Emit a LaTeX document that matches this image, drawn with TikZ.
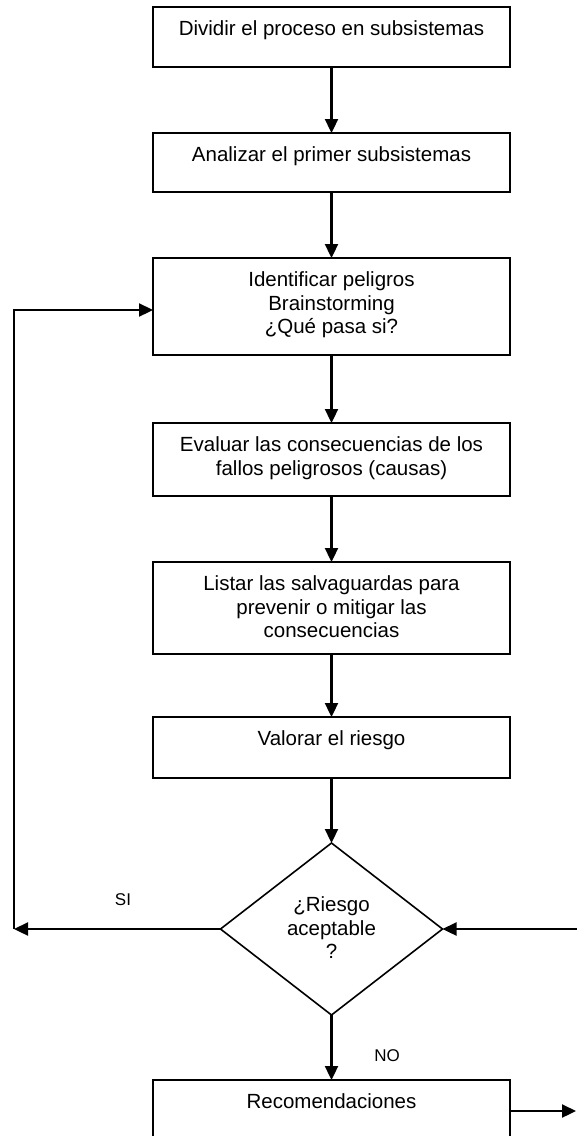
\documentclass[tikz,border=0pt]{standalone}
\usepackage{fontspec}
\setmainfont{Liberation Sans}
\usetikzlibrary{arrows.meta,shapes.geometric}
\begin{document}
\begin{tikzpicture}[x=1pt,y=-1pt,
  box/.style={draw, line width=1.6pt, minimum width=357pt, inner sep=0pt, outer sep=0pt},
  txt/.style={anchor=north, align=center, inner sep=0pt, font=\fontsize{20.5}{23.5}\selectfont},
  lbl/.style={anchor=base, inner sep=0pt, font=\fontsize{17}{20}\selectfont},
  flow/.style={line width=2.3pt, -{Triangle[width=13pt,length=14pt]}},
  decision/.style={diamond, draw, line width=1.6pt, minimum width=222pt, minimum height=172pt, inner sep=0pt, outer sep=0pt}]
\useasboundingbox (0,0) rectangle (577,1136);
\clip (0,0) rectangle (577,1136);

% process boxes (top edge + height/2 gives the centre)
\node[box, minimum height=60pt] (b1) at (331.5,37) {};
\node[box, minimum height=59pt] (b2) at (331.5,162.5) {};
\node[box, minimum height=97pt] (b3) at (331.5,306.5) {};
\node[box, minimum height=73pt] (b4) at (331.5,459.5) {};
\node[box, minimum height=92pt] (b5) at (331.5,608) {};
\node[box, minimum height=61pt] (b6) at (331.5,747.5) {};
\node[decision] (dec) at (331.5,929) {};
\node[box, minimum height=80pt] (b7) at (331.5,1120) {};

% box texts, first baseline about 28.5 below each top edge
\node[txt] (t1) at (331.5,18.5) {\rule{0pt}{17pt}Dividir el proceso en subsistemas};
\node[txt] (t2) at (331.5,144.5) {\rule{0pt}{17pt}Analizar el primer subsistemas};
\node[txt] (t3) at (331.5,269.5) {\rule{0pt}{17pt}Identificar peligros\\Brainstorming\\¿Qué pasa si?};
\node[txt] (t4) at (331.5,434.5) {\rule{0pt}{17pt}Evaluar las consecuencias de los\\fallos peligrosos (causas)};
\node[txt] (t5) at (331.5,573.5) {\rule{0pt}{17pt}Listar las salvaguardas para\\prevenir o mitigar las\\consecuencias};
\node[txt] (t6) at (331.5,728.5) {\rule{0pt}{17pt}Valorar el riesgo};
\node[txt] (t7) at (331.5,894.7) {\rule{0pt}{17pt}¿Riesgo\\aceptable\\?};
\node[txt] (t8) at (331.5,1091.5) {\rule{0pt}{17pt}Recomendaciones};

% branch labels
\node[lbl] (si) at (123,905.7) {SI};
\node[lbl] (no) at (387,1061.7) {NO};

% main flow
\draw[flow] (b1) -- (b2);
\draw[flow] (b2) -- (b3);
\draw[flow] (b3) -- (b4);
\draw[flow] (b4) -- (b5);
\draw[flow] (b5) -- (b6);
\draw[flow] (b6) -- (dec);
\draw[flow] (dec) -- (b7);

% "SI" loop back to hazard identification
\coordinate (sw) at (14,929);
\coordinate (nw) at (14,310);
\draw[flow] (dec.west) -- (sw);
\draw[flow] (sw) -- (nw) -- (nw -| b3.west);

% incoming and outgoing links at the right edge
\coordinate (ein) at (577,929);
\coordinate (eout) at (576,1111);
\draw[flow] (ein) -- (dec.east);
\draw[flow] (b7.east |- eout) -- (eout);
\end{tikzpicture}
\end{document}
